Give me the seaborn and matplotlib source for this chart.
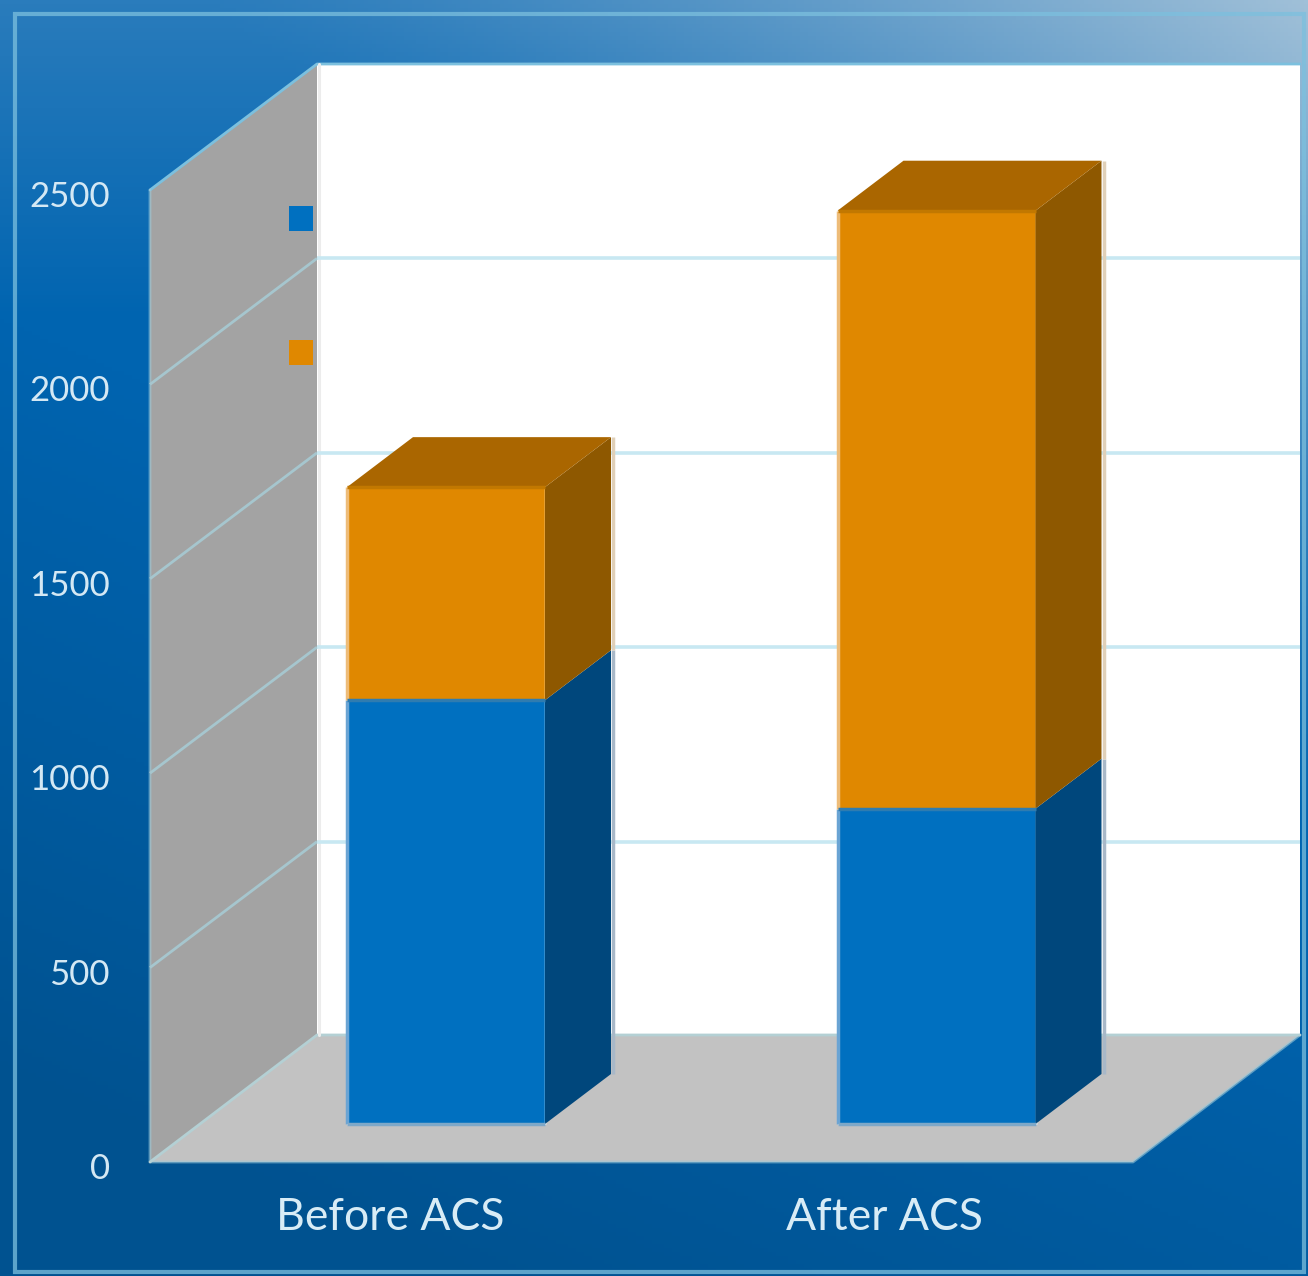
import numpy as np
import pandas as pd
import matplotlib
matplotlib.use('Agg')
import matplotlib.pyplot as plt
from matplotlib.patches import Polygon
import seaborn as sns

# values
periods = ['Before ACS', 'After ACS']
lower_values = [1090, 811]
upper_values = [548, 1538]
axis_ticks = [0, 500, 1000, 1500, 2000, 2500]
swatch_colors = ['#0070c0', '#e08800']
side_colors = ['#00477c', '#8e5800']
top_color = '#aa6600'

W, H = 1308, 1276
PX_PER_UNIT = 972 / 2500
PX_PER_CAT = 490.5
BAR_BASE = 1124
BAR_LEFT = 446
BAR_W = 198 / PX_PER_CAT


# pixel position in the picture -> data position of the bar plane
def dx(px):
    return (px - BAR_LEFT) / PX_PER_CAT


def dy(py):
    return (BAR_BASE - py) / PX_PER_UNIT


def pts(*xy):
    return [(dx(x), dy(y)) for x, y in xy]


DEPTH_X = 66 / PX_PER_CAT
DEPTH_Y = 50 / PX_PER_UNIT
WALL_SHIFT = dy(1162)
GRID_RISE = 126 / PX_PER_UNIT

sns.set_theme(style='white')
plt.rcParams['font.family'] = ['Lato', 'DejaVu Sans']

df = pd.DataFrame({'period': periods, 'lower': lower_values, 'upper': upper_values})
df['total'] = df['lower'] + df['upper']

fig = plt.figure(figsize=(W / 100, H / 100), dpi=100)
ax = fig.add_axes([0, 0, 1, 1])

# background: blue gradient, darker at bottom left, with a light corner at top right
yy, xx = np.mgrid[0:1:320j, 0:1:327j]
top = np.array([0x2a, 0x7c, 0xbc]) / 255
mid = np.array([0x00, 0x64, 0xb0]) / 255
low = np.array([0x00, 0x52, 0x90]) / 255
t1 = np.clip(yy / 0.25, 0, 1)[..., None]
t2 = np.clip((yy - 0.25) / 0.6 - xx * 0.75, 0, 1)[..., None]
grad = (top * (1 - t1) + mid * t1) * (1 - t2) + low * t2
glow = np.clip((xx - yy * 1.3 - 0.15) / 0.85, 0, 1)[..., None] ** 1.3
light = np.array([0xa0, 0xc0, 0xd8]) / 255
grad = grad * (1 - glow) + light * glow
ax.imshow(grad, extent=(dx(0), dx(W), dy(H), dy(0)), aspect='auto', zorder=0)

# frame
ax.add_patch(Polygon(pts((15, 14), (1304, 14), (1304, 1272), (15, 1272)), closed=True,
                     fill=False, ec='#7cc0de', lw=3, alpha=0.75, zorder=1))

# back wall, side wall, floor
ax.add_patch(Polygon(pts((317, 64), (1300, 64), (1300, 1035), (317, 1035)), fc='white',
                     ec='none', zorder=1))
ax.add_patch(Polygon(pts((150, 190), (317, 64), (317, 1035), (150, 1162)), fc='#a3a3a3',
                     ec='none', zorder=1))
ax.add_patch(Polygon(pts((150, 1162), (317, 1035), (1300, 1035), (1133, 1162)), fc='#c2c2c2',
                     ec='none', zorder=1))

# chart edges
edge = '#9cc8d8'
ax.plot(*zip(*pts((150, 190), (317, 64), (1300, 64))), color='#7cc0de', lw=2, zorder=2)
ax.plot(*zip(*pts((150, 190), (150, 1162), (1133, 1162), (1300, 1035))), color=edge, lw=2, alpha=0.6, zorder=2)
ax.plot(*zip(*pts((150, 1162), (317, 1035), (1300, 1035))), color='#b4d0d4', lw=2, zorder=2)
ax.plot(*zip(*pts((318.5, 64), (318.5, 1035))), color='#ececec', lw=2.2, zorder=2)

# gridlines on side wall and back wall
for v in axis_ticks[1:-1]:
    y0 = WALL_SHIFT + v
    ax.plot([dx(150), dx(317)], [y0, y0 + GRID_RISE], color='#a6c6ce', lw=2, zorder=2,
            solid_capstyle='butt')
    ax.plot([dx(317), dx(1300)], [y0 + GRID_RISE, y0 + GRID_RISE], color='#c8e8f2', lw=2.6, zorder=2,
            solid_capstyle='butt')

# front faces of the stacked bars
sns.barplot(data=df, x='period', y='total', order=periods, color=swatch_colors[1],
            saturation=1, width=BAR_W, ax=ax, zorder=5)
sns.barplot(data=df, x='period', y='lower', order=periods, color=swatch_colors[0],
            saturation=1, width=BAR_W, ax=ax, zorder=5)

# side and top faces
for i in range(len(periods)):
    x0, x1 = i - BAR_W / 2, i + BAR_W / 2
    low_v, total = lower_values[i], lower_values[i] + upper_values[i]
    ax.add_patch(Polygon([(x1, 0), (x1 + DEPTH_X, DEPTH_Y), (x1 + DEPTH_X, low_v + DEPTH_Y), (x1, low_v)],
                         fc=side_colors[0], ec='none', zorder=5))
    ax.add_patch(Polygon([(x1, low_v), (x1 + DEPTH_X, low_v + DEPTH_Y), (x1 + DEPTH_X, total + DEPTH_Y), (x1, total)],
                         fc=side_colors[1], ec='none', zorder=5))
    ax.add_patch(Polygon([(x0, total), (x0 + DEPTH_X, total + DEPTH_Y), (x1 + DEPTH_X, total + DEPTH_Y), (x1, total)],
                         fc=top_color, ec='none', zorder=5))
    # soft outlines
    ax.plot([x0, x0], [0, low_v], color='#6aa4d4', lw=2.5, zorder=6, solid_capstyle='butt')
    ax.plot([x0, x0], [low_v, total], color='#eebc78', lw=2.5, zorder=6, solid_capstyle='butt')
    ax.plot([x0, x1], [0, 0], color='#7ea8c8', lw=2.5, zorder=6, solid_capstyle='butt')
    ax.plot([x0, x1], [low_v, low_v], color='#2f7cb0', lw=2.5, zorder=6, solid_capstyle='butt')
    ax.plot([x0, x1], [total, total], color='#c27800', lw=2.5, zorder=6, solid_capstyle='butt')
    xb = x1 + DEPTH_X + 2 / PX_PER_CAT
    ax.plot([xb, xb], [DEPTH_Y, low_v + DEPTH_Y], color='#a8b8c8', lw=2.5, zorder=4, solid_capstyle='butt')
    ax.plot([xb, xb], [low_v + DEPTH_Y, total + DEPTH_Y], color='#e0d0b8', lw=2.5, zorder=4, solid_capstyle='butt')

# legend swatches (the legend has no readable labels)
for color, py in zip(swatch_colors, [218.5, 352.5]):
    ax.add_patch(Polygon(pts((289, py - 12.5), (313, py - 12.5), (313, py + 12.5), (289, py + 12.5)),
                         fc=color, ec='none', zorder=6))

# tick and category labels
for v in axis_ticks:
    ax.text(dx(110), WALL_SHIFT + v - 7 / PX_PER_UNIT, str(v), ha='right', va='center',
            fontsize=25, color='#d4e8f4', zorder=7)
for label, px in zip(periods, [390, 885]):
    ax.text(dx(px), dy(1217), label, ha='center', va='center', fontsize=32,
            color='#d8ecf6', zorder=7)

ax.set_xlim(dx(0), dx(W))
ax.set_ylim(dy(H), dy(0))
ax.set_xticks([])
ax.set_yticks([])
ax.set_xlabel('')
ax.set_ylabel('')
sns.despine(ax=ax, left=True, bottom=True)

fig.savefig('out.png', dpi=100)
